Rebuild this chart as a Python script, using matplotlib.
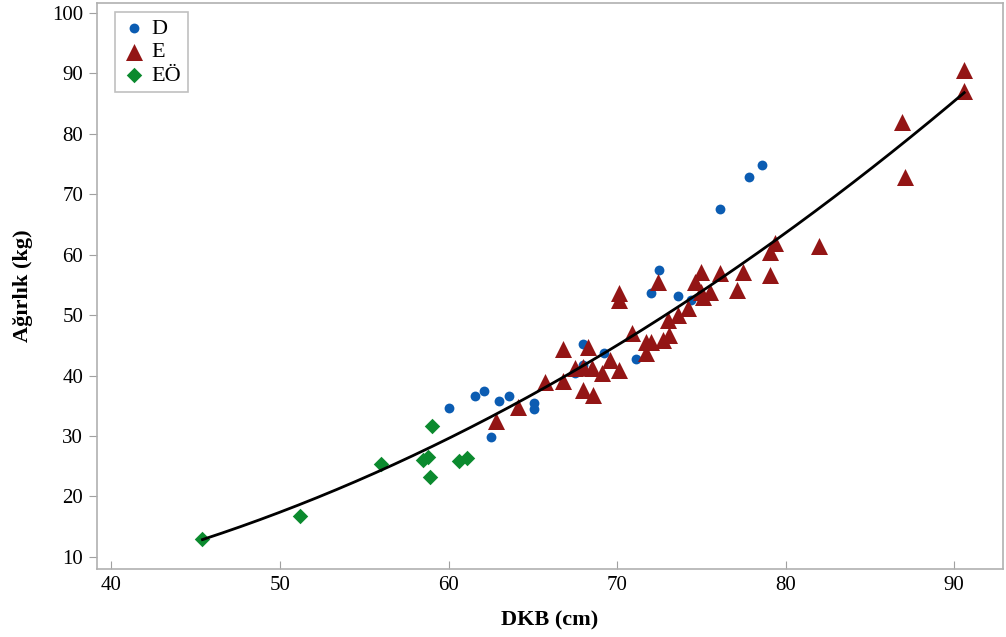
import numpy as np
import matplotlib
matplotlib.use("Agg")
import matplotlib.pyplot as plt

# DKB (cm) ve ağırlık (kg) ölçümleri, gruplara göre
dkb_d = [60.0, 61.6, 62.1, 63.0, 63.6, 65.1, 65.1, 62.5, 68.0, 68.0,
         67.5, 69.2, 71.1, 72.0, 72.5, 73.6, 74.4, 76.1, 77.8, 78.6]
agirlik_d = [34.6, 36.6, 37.4, 35.8, 36.6, 35.4, 34.4, 29.8, 45.2, 41.7,
             40.4, 43.7, 42.7, 53.6, 57.5, 53.1, 52.5, 67.5, 72.8, 74.8]

dkb_e = [62.8, 64.1, 65.7, 66.8, 66.8, 68.0, 68.6, 67.5, 68.0, 68.5,
         68.3, 69.1, 69.6, 70.1, 70.1, 70.1, 70.9, 71.7, 72.0, 71.7,
         72.7, 73.1, 72.4, 73.0, 73.6, 74.2, 74.6, 75.0, 75.0, 75.1,
         75.5, 76.1, 77.1, 77.5, 79.1, 79.1, 79.4, 82.0, 86.9, 87.1,
         90.6, 90.6]
agirlik_e = [32.5, 34.8, 38.9, 39.1, 44.4, 37.6, 36.8, 41.2, 41.4, 41.2,
             44.7, 40.4, 42.5, 40.9, 53.6, 52.5, 47.0, 45.5, 45.5, 43.7,
             45.9, 46.7, 55.5, 49.2, 50.0, 51.2, 55.5, 57.1, 53.8, 53.0,
             53.8, 57.0, 54.1, 57.1, 56.6, 60.4, 61.9, 61.4, 82.0, 72.8,
             90.6, 87.1]

dkb_eo = [45.4, 51.2, 56.0, 58.5, 58.8, 59.0, 58.9, 60.6, 61.1]
agirlik_eo = [12.9, 16.7, 25.3, 26.0, 26.5, 31.6, 23.2, 25.8, 26.3]

# ikinci derece model: ağırlık = a*DKB^2 + b*DKB + c
model_coef = [0.016, -0.54, 4.4]

plt.rcParams['font.family'] = ['Liberation Serif', 'DejaVu Serif']

fig = plt.figure(figsize=(10.06, 6.37), dpi=100)
ax = fig.add_axes([0.0964, 0.1068, 0.9006, 0.8885])

ax.scatter(dkb_d, agirlik_d, s=50, marker='o', color='#0B5CB2', label='D', zorder=3, linewidths=0)
ax.scatter(dkb_e, agirlik_e, s=150, marker='^', color='#931515', label='E', zorder=3, linewidths=0)
ax.scatter(dkb_eo, agirlik_eo, s=62, marker='D', color='#0B8A2E', label='EÖ', zorder=3, linewidths=0)

x_all = np.array(dkb_d + dkb_e + dkb_eo)
xs = np.linspace(x_all.min(), x_all.max(), 200)
ax.plot(xs, np.polyval(model_coef, xs), color='black', lw=2, zorder=4)

ax.set_xlim(39.14, 92.9)
ax.set_ylim(8.0, 101.65)
ax.set_xticks([40, 50, 60, 70, 80, 90])
ax.set_yticks(range(10, 101, 10))

for sp in ax.spines.values():
    sp.set_color('#B0B0B0')
    sp.set_linewidth(1.2)
ax.tick_params(axis='x', direction='in', length=6, color='#A0A0A0', labelsize=15, pad=5)
ax.tick_params(axis='y', direction='out', length=6, color='#A0A0A0', labelsize=15, pad=4)

ax.set_xlabel('DKB (cm)', fontsize=16, fontweight='bold', labelpad=11)
ax.set_ylabel('Ağırlık (kg)', fontsize=16, fontweight='bold', labelpad=14)

leg = ax.legend(loc='upper left', bbox_to_anchor=(0.0199, 0.984), borderaxespad=0,
                fontsize=16, frameon=True, fancybox=False, edgecolor='#B0B0B0',
                borderpad=0.3, labelspacing=0.12, handletextpad=0.25, handlelength=1.1)
leg.get_frame().set_linewidth(1.2)

fig.savefig('out.png', dpi=100)
